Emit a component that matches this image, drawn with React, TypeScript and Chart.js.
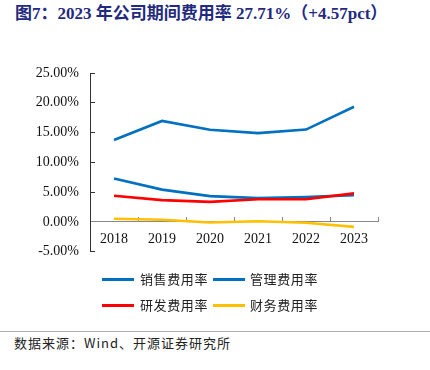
import React, { useEffect, useRef } from 'react';
import { Chart, registerables } from 'chart.js';

Chart.register(...registerables);

const years = ['2018', '2019', '2020', '2021', '2022', '2023'];
const salesRate = [13.75, 16.95, 15.47, 14.9, 15.5, 19.33];
const mgmtRate = [7.29, 5.41, 4.32, 3.98, 4.18, 4.49];
const rdRate = [4.38, 3.64, 3.36, 3.8, 3.8, 4.78];
const finRate = [0.51, 0.34, -0.1, 0.1, -0.15, -0.85];
const seriesNames = ['销售费用率', '管理费用率', '研发费用率', '财务费用率'];
const seriesColors = ['#0070C0', '#0070C0', '#FF0000', '#FFC000'];
const yMin = -5;
const yMax = 25;
const yStep = 5;

const titleText = '图7：2023 年公司期间费用率 27.71%（+4.57pct）';
const sourceText = '数据来源：Wind、开源证券研究所';

const serif = '"Liberation Serif", "Times New Roman", "Noto Sans CJK SC", serif';
const cjk = '"Noto Sans CJK SC", "Liberation Serif", serif';

export default function App() {
  const ref = useRef<HTMLCanvasElement | null>(null);

  useEffect(() => {
    if (!ref.current) return;
    const seriesData = [salesRate, mgmtRate, rdRate, finRate];
    const chart = new Chart(ref.current, {
      type: 'line',
      data: {
        labels: years,
        datasets: seriesNames.map((name, i) => ({
          label: name,
          data: seriesData[i],
          borderColor: seriesColors[i],
          backgroundColor: seriesColors[i],
          borderWidth: 2.6,
          pointRadius: 0,
          tension: 0,
          order: i === 2 ? 0 : i + 1,
        })),
      },
      options: {
        animation: false,
        responsive: false,
        maintainAspectRatio: false,
        layout: { padding: { left: 0, right: 52, top: 33, bottom: 11 } },
        plugins: { legend: { display: false }, tooltip: { enabled: false } },
        scales: {
          x: {
            type: 'category',
            offset: true,
            position: { y: 0 } as any,
            afterFit: (s: any) => { s.height = 0; },
            grid: {
              display: true,
              offset: true,
              drawOnChartArea: false,
              drawTicks: true,
              tickLength: -5,
              color: '#888888',
            },
            border: { display: true, color: '#888888', width: 1 },
            ticks: {
              color: '#111111',
              padding: 14,
              font: { family: serif, size: 14 },
              maxRotation: 0,
            },
          },
          y: {
            min: yMin,
            max: yMax,
            afterFit: (s: any) => { s.width = 90; },
            grid: {
              display: true,
              drawOnChartArea: false,
              drawTicks: true,
              tickLength: -5,
              color: '#333333',
            },
            border: { display: true, color: '#333333', width: 1 },
            ticks: {
              stepSize: yStep,
              color: '#111111',
              padding: 16,
              font: { family: serif, size: 14 },
              callback: (v: any) => Number(v).toFixed(2) + '%',
            },
          },
        },
      },
    });
    return () => chart.destroy();
  }, []);

  const legendPos = [
    { lx: 102, tx: 140, y: 279 },
    { lx: 213, tx: 250, y: 279 },
    { lx: 102, tx: 140, y: 305 },
    { lx: 213, tx: 250, y: 305 },
  ];

  return (
    <div style={{ position: 'fixed', left: 0, top: 0, width: 430, height: 370, background: '#ffffff', overflow: 'hidden' }}>
      <div style={{ position: 'absolute', left: 15, top: 4, fontFamily: serif, fontWeight: 'bold', fontSize: 17, color: '#1F2A80', whiteSpace: 'nowrap', lineHeight: '20px' }}>
        {titleText}
      </div>
      <canvas ref={ref} width={430} height={236} style={{ position: 'absolute', left: 0, top: 40, width: 430, height: 236 }} />
      {seriesNames.map((name, i) => (
        <React.Fragment key={name}>
          <div style={{ position: 'absolute', left: legendPos[i].lx, top: legendPos[i].y - 1.5, width: 32, height: 3, background: seriesColors[i] }} />
          <div style={{ position: 'absolute', left: legendPos[i].tx, top: legendPos[i].y - 9, fontFamily: cjk, fontSize: 13, lineHeight: '18px', letterSpacing: 0.6, color: '#222222', whiteSpace: 'nowrap' }}>
            {name}
          </div>
        </React.Fragment>
      ))}
      <div style={{ position: 'absolute', left: 0, top: 331, width: 430, height: 1, background: '#b0b0b0' }} />
      <div style={{ position: 'absolute', left: 14, top: 334, fontFamily: cjk, fontSize: 13, lineHeight: '18px', letterSpacing: 1, color: '#222222', whiteSpace: 'nowrap' }}>
        {sourceText}
      </div>
    </div>
  );
}
